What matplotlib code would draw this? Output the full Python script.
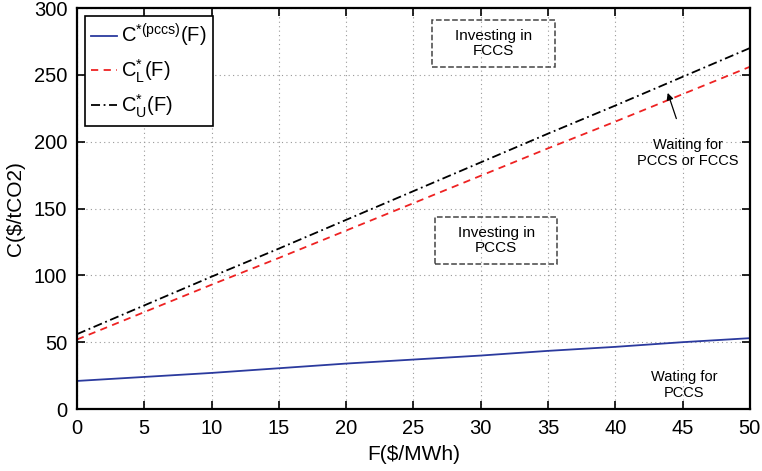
import matplotlib.pyplot as plt
from matplotlib.patches import Rectangle
import numpy as np

plt.rcParams.update({
    "font.family": ["Liberation Sans", "DejaVu Sans"],
    "font.size": 14,
    "axes.linewidth": 1.6,
    "mathtext.fontset": "custom",
    "mathtext.rm": "Liberation Sans",
    "mathtext.it": "Liberation Sans",
})

F = [0, 5, 10, 15, 20, 25, 30, 35, 40, 45, 50]
c_pccs = [21, 24, 27, 30.5, 34, 37, 40, 43.5, 46.5, 50, 53]
c_low = [52, 72.5, 93, 113, 133.5, 154, 174.5, 195, 215, 235.5, 256]
c_up = [56, 77.5, 99, 120, 141.5, 163, 184.5, 206, 227, 248.5, 270]

fig = plt.figure(figsize=(7.62, 4.71), dpi=100)
ax = fig.add_axes([0.101, 0.1316, 0.883, 0.8514])

ax.plot(F, c_pccs, color="#2b3a9e", lw=1.3, label=r"C$^{*(pccs)}$(F)")
ax.plot(F, c_low, color="#ee2222", lw=1.3, ls=(0, (4, 3)), label=r"C$^{*}_{L}$(F)")
ax.plot(F, c_up, color="black", lw=1.3, ls=(0, (5, 2, 1, 2)), label=r"C$^{*}_{U}$(F)")

ax.set_xlim(0, 50)
ax.set_ylim(0, 300)
ax.set_xticks(np.arange(0, 51, 5))
ax.set_yticks(np.arange(0, 301, 50))
ax.tick_params(direction="in", top=True, right=True, labelsize=14.5, length=6, width=1.2, pad=7)
ax.grid(True, color="#999999", ls=(0, (1, 3)), lw=0.8)
ax.set_xlabel("F($/MWh)", fontsize=15, labelpad=5)
ax.set_ylabel("C($/tCO2)", fontsize=15, labelpad=6)

leg = ax.legend(loc="upper left", fontsize=14.5, fancybox=False, edgecolor="black",
                framealpha=1, handlelength=1.3, handletextpad=0.2, borderpad=0.3,
                labelspacing=0.4, borderaxespad=0.4)
leg.get_frame().set_linewidth(1.2)

# dashed boxes around the region labels
for x0, y0 in [(26.4, 256), (26.6, 108.5)]:
    ax.add_patch(Rectangle((x0, y0), 9.1, 35, fill=False, ec="#444444", ls="--", lw=1.1, zorder=3))
ax.text(30.95, 273.5, "Investing in\nFCCS", ha="center", va="center", fontsize=11, linespacing=1.1)
ax.text(31.15, 126, "Investing in\nPCCS", ha="center", va="center", fontsize=11, linespacing=1.1)

ax.annotate("Waiting for\nPCCS or FCCS", xy=(43.9, 236.5), xytext=(45.4, 191.5),
            ha="center", va="center", fontsize=10.5, linespacing=1.1,
            arrowprops=dict(arrowstyle="-|>", color="black", lw=0.9,
                            shrinkA=13, shrinkB=0, mutation_scale=10))
ax.text(45.1, 18, "Wating for\nPCCS", ha="center", va="center", fontsize=10.5, linespacing=1.1)

fig.savefig("out.png", dpi=100)
